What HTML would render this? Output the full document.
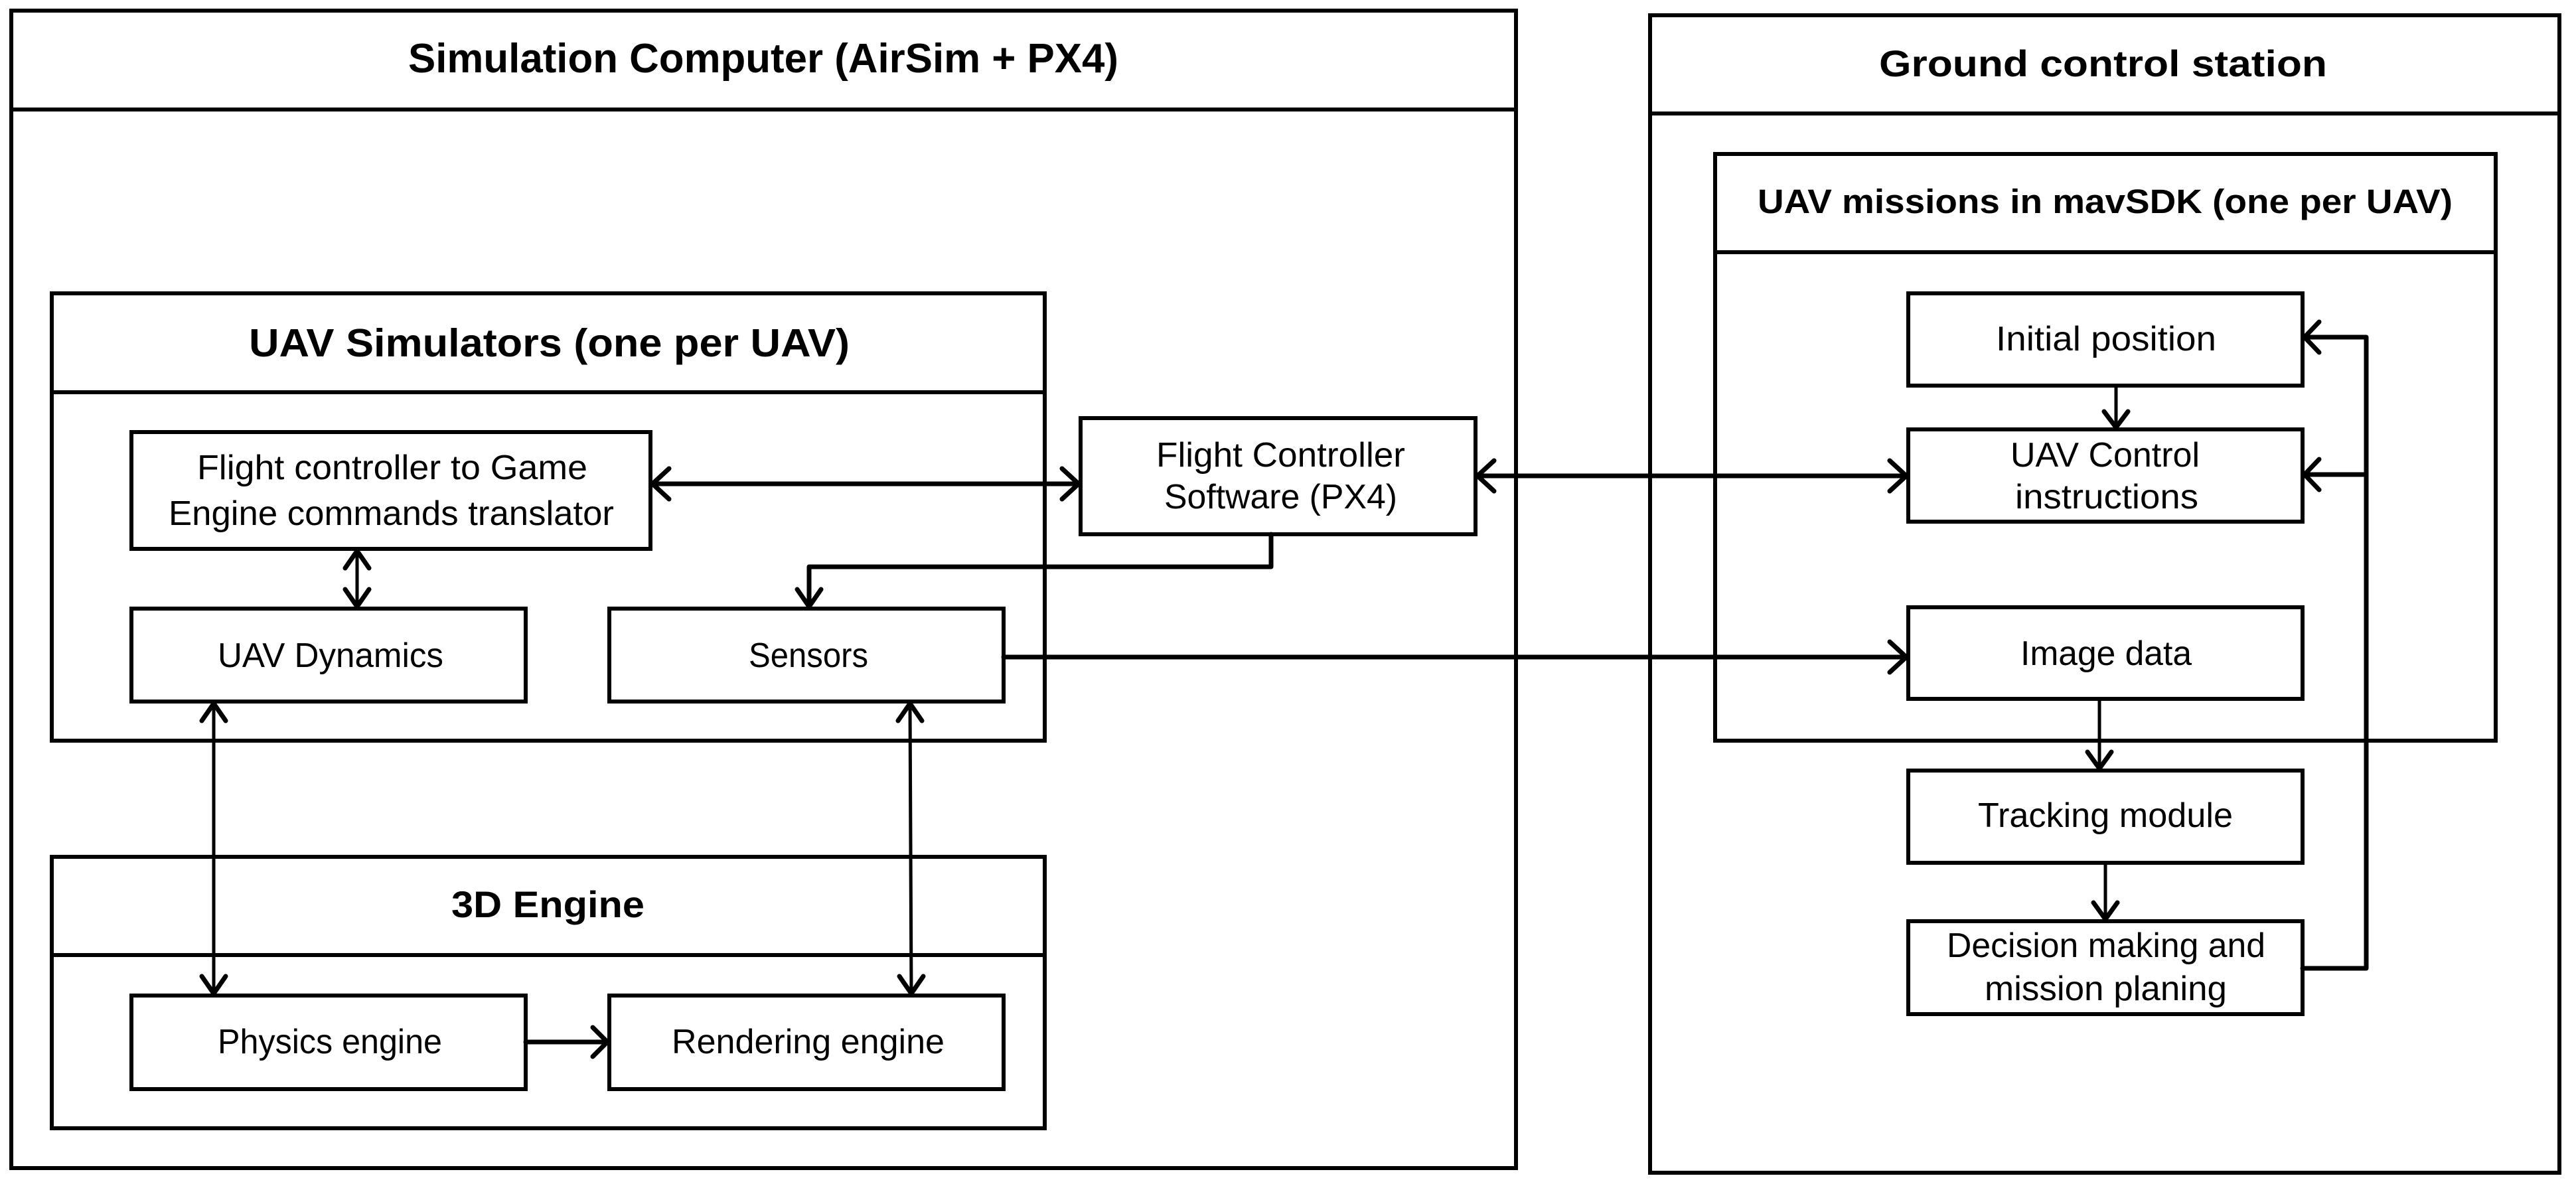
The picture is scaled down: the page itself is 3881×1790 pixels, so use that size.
<!DOCTYPE html>
<html><head><meta charset="utf-8"><style>
html,body{margin:0;padding:0;background:#fff}
svg{display:block}
text{font-family:"Liberation Sans",sans-serif;fill:#000}
.b{font-weight:bold}
</style></head><body>
<svg width="3881" height="1790" viewBox="0 0 3881 1790" xmlns="http://www.w3.org/2000/svg">
<g fill="none" stroke="#000" stroke-width="6" stroke-linejoin="miter">
<rect x="17" y="16" width="2267" height="1744"/>
<line x1="17" y1="165" x2="2284" y2="165"/>
<rect x="78" y="442" width="1496" height="674"/>
<line x1="78" y1="591" x2="1574" y2="591"/>
<rect x="198" y="651" width="782" height="176"/>
<rect x="198" y="917" width="594" height="140"/>
<rect x="918" y="917" width="594" height="140"/>
<rect x="1628" y="630" width="595" height="175"/>
<rect x="78" y="1291" width="1496" height="409"/>
<line x1="78" y1="1439" x2="1574" y2="1439"/>
<rect x="198" y="1500" width="594" height="141"/>
<rect x="918" y="1500" width="594" height="141"/>
<rect x="2486" y="23" width="1370" height="1744"/>
<line x1="2486" y1="171" x2="3856" y2="171"/>
<rect x="2584" y="232" width="1176" height="884"/>
<line x1="2584" y1="380" x2="3760" y2="380"/>
<rect x="2875" y="442" width="594" height="139"/>
<rect x="2875" y="647" width="594" height="139"/>
<rect x="2875" y="915" width="594" height="138"/>
<rect x="2875" y="1161" width="594" height="139"/>
<rect x="2875" y="1388" width="594" height="140"/>
</g>
<g fill="none" stroke="#000" stroke-width="7" stroke-linecap="round" stroke-linejoin="round">
<line x1="983" y1="729" x2="1625" y2="729"/>
<polyline points="1008,706 983,729 1008,752"/>
<polyline points="1600,706 1625,729 1600,752"/>
<line x1="538" y1="830" x2="538" y2="914" stroke-width="5"/>
<polyline points="520,856 538,830 556,856"/>
<polyline points="520,888 538,914 556,888"/>
<polyline points="1915,805 1915,854 1219,854 1219,914"/>
<polyline points="1201,888 1219,914 1237,888"/>
<line x1="322" y1="1060" x2="322" y2="1497" stroke-width="5"/>
<polyline points="304,1086 322,1060 340,1086"/>
<polyline points="304,1471 322,1497 340,1471"/>
<line x1="1371" y1="1060" x2="1373" y2="1497" stroke-width="5"/>
<polyline points="1353,1086 1371,1060 1389,1086"/>
<polyline points="1355,1471 1373,1497 1391,1471"/>
<line x1="792" y1="1570" x2="915" y2="1570"/>
<polyline points="893,1548 915,1570 893,1592"/>
<line x1="1512" y1="990" x2="2872" y2="990"/>
<polyline points="2847,967 2872,990 2847,1013"/>
<line x1="2226" y1="717" x2="2872" y2="717"/>
<polyline points="2251,694 2226,717 2251,740"/>
<polyline points="2847,694 2872,717 2847,740"/>
<line x1="3188" y1="581" x2="3188" y2="644" stroke-width="5"/>
<polyline points="3170,620 3188,644 3206,620"/>
<line x1="3163" y1="1053" x2="3163" y2="1158" stroke-width="5"/>
<polyline points="3145,1133 3163,1158 3181,1133"/>
<line x1="3172" y1="1300" x2="3172" y2="1385" stroke-width="5"/>
<polyline points="3154,1360 3172,1385 3190,1360"/>
<polyline points="3469,1459 3565,1459 3565,508 3472,508"/>
<line x1="3565" y1="715" x2="3472" y2="715"/>
<polyline points="3494,485 3472,508 3494,531"/>
<polyline points="3494,692 3472,715 3494,738"/>
</g>
<g text-anchor="start">
<text class="b" x="615" y="109" font-size="62" textLength="1070" lengthAdjust="spacingAndGlyphs">Simulation Computer (AirSim + PX4)</text>
<text class="b" x="375" y="537" font-size="59" textLength="905" lengthAdjust="spacingAndGlyphs">UAV Simulators (one per UAV)</text>
<text class="b" x="680" y="1382" font-size="56" textLength="291" lengthAdjust="spacingAndGlyphs">3D Engine</text>
<text class="b" x="2831" y="115" font-size="56" textLength="675" lengthAdjust="spacingAndGlyphs">Ground control station</text>
<text class="b" x="2648" y="321" font-size="51" textLength="1047" lengthAdjust="spacingAndGlyphs">UAV missions in mavSDK (one per UAV)</text>
<text x="297" y="722" font-size="52" textLength="588" lengthAdjust="spacingAndGlyphs">Flight controller to Game</text>
<text x="254" y="791" font-size="52" textLength="671" lengthAdjust="spacingAndGlyphs">Engine commands translator</text>
<text x="1742" y="703" font-size="52" textLength="375" lengthAdjust="spacingAndGlyphs">Flight Controller</text>
<text x="1754" y="766" font-size="52" textLength="351" lengthAdjust="spacingAndGlyphs">Software (PX4)</text>
<text x="328" y="1005" font-size="52" textLength="340" lengthAdjust="spacingAndGlyphs">UAV Dynamics</text>
<text x="1128" y="1005" font-size="52" textLength="180" lengthAdjust="spacingAndGlyphs">Sensors</text>
<text x="328" y="1587" font-size="52" textLength="338" lengthAdjust="spacingAndGlyphs">Physics engine</text>
<text x="1012" y="1587" font-size="52" textLength="411" lengthAdjust="spacingAndGlyphs">Rendering engine</text>
<text x="3007" y="528" font-size="52" textLength="332" lengthAdjust="spacingAndGlyphs">Initial position</text>
<text x="3029" y="703" font-size="52" textLength="285" lengthAdjust="spacingAndGlyphs">UAV Control</text>
<text x="3036" y="766" font-size="52" textLength="276" lengthAdjust="spacingAndGlyphs">instructions</text>
<text x="3044" y="1002" font-size="52" textLength="258" lengthAdjust="spacingAndGlyphs">Image data</text>
<text x="2980" y="1246" font-size="52" textLength="384" lengthAdjust="spacingAndGlyphs">Tracking module</text>
<text x="2933" y="1442" font-size="52" textLength="480" lengthAdjust="spacingAndGlyphs">Decision making and</text>
<text x="2990" y="1507" font-size="52" textLength="365" lengthAdjust="spacingAndGlyphs">mission planing</text>
</g>
</svg>
</body></html>
